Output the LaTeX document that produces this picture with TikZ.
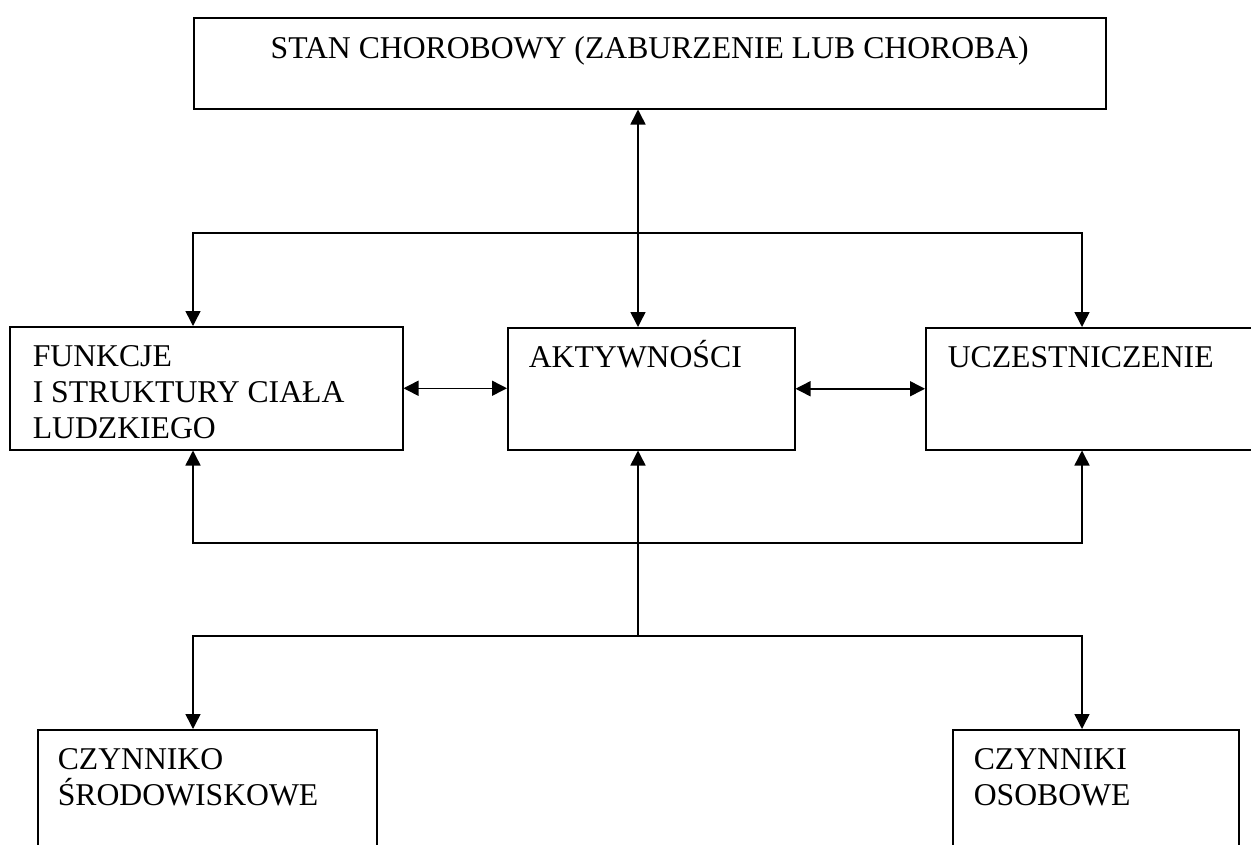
\documentclass[tikz,border=0pt]{standalone}
\usepackage{fontspec}
\setmainfont{Liberation Serif}
\usetikzlibrary{arrows.meta}

\begin{document}
\begin{tikzpicture}[
    x=1pt, y=-1pt,
    >={Triangle[length=15pt, width=15pt]},
    line width=1.5pt,
    box/.style={draw, anchor=north west, inner sep=0pt},
    lbl/.style={inner sep=0pt, align=left, font=\fontsize{31.7}{36}\selectfont},
]
    \useasboundingbox (0, 0) rectangle (1251, 844);
    \clip (0, 0) rectangle (1251, 844);

    % TOP BOX
    \node (stan) at (193, 17) [box, minimum width=912pt, minimum height=91pt] {};
    \node (stan_lbl) at ([yshift=-41pt]stan.north) [lbl, anchor=base] {STAN CHOROBOWY (ZABURZENIE LUB CHOROBA)};

    % MIDDLE ROW
    \node (funkcje) at (9, 326) [box, minimum width=393pt, minimum height=123pt] {};
    \node (aktywnosci) at (507, 327) [box, minimum width=287pt, minimum height=122pt] {};
    \node (uczestniczenie) at (925, 327) [box, minimum width=340pt, minimum height=122pt] {}; % runs off the page
    % (base = last line, so the shift goes to the last baseline)
    \node (funkcje_lbl) at ([shift={(23, 112)}]funkcje.north west) [lbl, anchor=base west] {FUNKCJE\\I STRUKTURY CIAŁA\\LUDZKIEGO};
    \node (aktywnosci_lbl) at ([shift={(21, 40)}]aktywnosci.north west) [lbl, anchor=base west] {AKTYWNOŚCI};
    \node (uczestniczenie_lbl) at ([shift={(22, 40)}]uczestniczenie.north west) [lbl, anchor=base west] {UCZESTNICZENIE};

    % BOTTOM ROW (cut by the page edge)
    \node (czynniki_srod) at (37, 729) [box, minimum width=339pt, minimum height=140pt] {};
    \node (czynniki_osob) at (952, 729) [box, minimum width=286pt, minimum height=140pt] {};
    \node (czynniki_srod_lbl) at ([shift={(20, 76)}]czynniki_srod.north west) [lbl, anchor=base west] {CZYNNIKO\\ŚRODOWISKOWE};
    \node (czynniki_osob_lbl) at ([shift={(21, 76)}]czynniki_osob.north west) [lbl, anchor=base west] {CZYNNIKI\\OSOBOWE};

    % BUS POINTS
    \coordinate (upper_bus) at (638, 233);
    \coordinate (lower_bus) at (638, 543);
    \coordinate (base_bus) at (638, 636);
    \coordinate (left_x) at (193, 0);
    \coordinate (right_x) at (1082, 0);

    % Connections
    \draw[<->] (upper_bus |- stan.south) -- (upper_bus |- aktywnosci.north);
    \draw[<->] (left_x |- funkcje.north) |- (right_x |- upper_bus) -- (right_x |- uczestniczenie.north);
    \draw[<->] (funkcje.east) -- (funkcje.east -| aktywnosci.west);
    \draw[<->] (aktywnosci.east) -- (aktywnosci.east -| uczestniczenie.west);
    \draw[<->] (left_x |- funkcje.south) |- (right_x |- lower_bus) -- (right_x |- uczestniczenie.south);
    \draw[->] (base_bus) -- (base_bus |- aktywnosci.south);
    \draw[<->] (left_x |- czynniki_srod.north) |- (right_x |- base_bus) -- (right_x |- czynniki_osob.north);
\end{tikzpicture}
\end{document}
